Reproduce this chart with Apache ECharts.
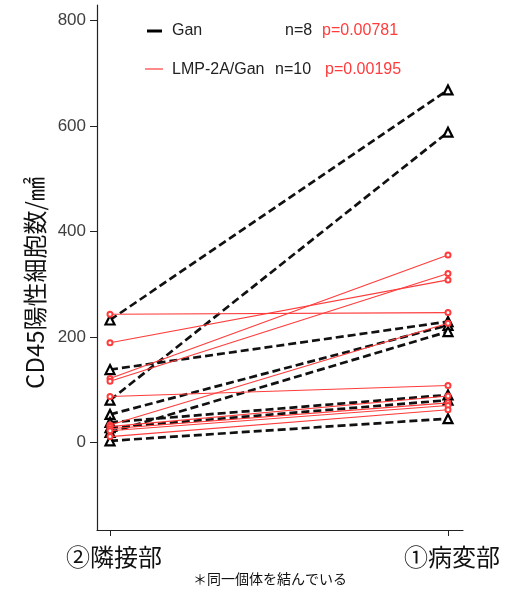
<!DOCTYPE html>
<html>
<head>
<meta charset="utf-8">
<script src="https://cdn.jsdelivr.net/npm/echarts@6/dist/echarts.min.js"></script>
<style>
  html, body { margin: 0; padding: 0; background: #fff; }
  #chart { width: 519px; height: 592px; }
</style>
</head>
<body>
<div id="chart"></div>
<script>
// Paired measurements: each index links one individual's two sites
const siteLabels = ['②隣接部', '①病変部'];
const yTicks = [0, 200, 400, 600, 800];

// Gan group (n=8)
const ganAdjacent = [232, 80, 138, 53, 19, 38, 28, 3];
const ganLesion   = [668, 588, 229, 222, 210, 90, 80, 45];

// LMP-2A/Gan group (n=10)
const lmpAdjacent = [243, 189, 121, 116, 87, 33, 30, 26, 22, 11];
const lmpLesion   = [246, 308, 355, 320, 108, 226, 88, 75, 70, 62];

const ganLegend = ['Gan', 'n=8', 'p=0.00781'];
const lmpLegend = ['LMP-2A/Gan', 'n=10', 'p=0.00195'];
const yAxisTitle = 'CD45陽性細胞数/㎟';
const footnote = '＊同一個体を結んでいる';

const RED = '#ff3b3b';
const JP = '"Noto Sans CJK JP", sans-serif';
const LAT = '"Liberation Sans", Arial, sans-serif';

const series = [];
ganAdjacent.forEach((v, i) => {
  series.push({
    type: 'line',
    data: [[0, v], [1, ganLesion[i]]],
    symbol: 'triangle',
    symbolSize: 9,
    z: 3,
    lineStyle: { color: '#111', width: 2.7, type: [8, 4] },
    itemStyle: { color: '#fff', borderColor: '#000', borderWidth: 2.2 },
    animation: false,
    silent: true
  });
});
lmpAdjacent.forEach((v, i) => {
  series.push({
    type: 'line',
    data: [[0, v], [1, lmpLesion[i]]],
    symbol: 'emptyCircle',
    symbolSize: 5,
    z: 4,
    lineStyle: { color: RED, width: 1.1 },
    itemStyle: { color: RED, borderColor: RED, borderWidth: 1 },
    animation: false,
    silent: true
  });
});

const chart = echarts.init(document.getElementById('chart'), null, { renderer: 'canvas' });
chart.setOption({
  backgroundColor: '#fff',
  animation: false,
  grid: { left: 97, right: 56, top: 5, bottom: 62 },
  xAxis: {
    type: 'value',
    min: -0.0385,
    max: 1.0444,
    splitLine: { show: false },
    axisLine: { show: true, onZero: false, lineStyle: { color: '#222', width: 1.2 } },
    axisTick: { show: true, customValues: [0, 1], length: 6, lineStyle: { color: '#222' } },
    axisLabel: {
      customValues: [0, 1],
      margin: 15,
      fontSize: 24,
      color: '#111',
      fontFamily: JP,
      padding: [0, 0, 0, 8],
      formatter: v => siteLabels[Math.round(v)]
    }
  },
  yAxis: {
    type: 'value',
    min: -166,
    max: 829,
    splitLine: { show: false },
    axisLine: { show: true, onZero: false, lineStyle: { color: '#222', width: 1.2 } },
    axisTick: { show: true, customValues: yTicks, length: 7, lineStyle: { color: '#222' } },
    axisLabel: {
      customValues: yTicks,
      margin: 11,
      fontSize: 17,
      color: '#404040',
      fontFamily: LAT
    }
  },
  graphic: [
    { type: 'text', x: 35, y: 283, rotation: Math.PI / 2,
      style: { text: yAxisTitle, font: '24px ' + JP, fill: '#111', align: 'center', verticalAlign: 'middle' } },
    { type: 'text', x: 270, y: 579,
      style: { text: footnote, font: '14px ' + JP, fill: '#111', align: 'center', verticalAlign: 'middle' } },
    // legend row 1
    { type: 'line', shape: { x1: 147, y1: 31, x2: 162, y2: 31 }, style: { stroke: '#000', lineWidth: 3 } },
    { type: 'text', x: 172, y: 31, style: { text: ganLegend[0], font: '16px ' + LAT, fill: '#222', verticalAlign: 'middle' } },
    { type: 'text', x: 285, y: 31, style: { text: ganLegend[1], font: '16px ' + LAT, fill: '#222', verticalAlign: 'middle' } },
    { type: 'text', x: 322, y: 31, style: { text: ganLegend[2], font: '16px ' + LAT, fill: RED, verticalAlign: 'middle' } },
    // legend row 2
    { type: 'line', shape: { x1: 145, y1: 69, x2: 163, y2: 69 }, style: { stroke: RED, lineWidth: 1.2 } },
    { type: 'text', x: 172, y: 70, style: { text: lmpLegend[0], font: '16px ' + LAT, fill: '#222', verticalAlign: 'middle' } },
    { type: 'text', x: 275, y: 70, style: { text: lmpLegend[1], font: '16px ' + LAT, fill: '#222', verticalAlign: 'middle' } },
    { type: 'text', x: 325, y: 70, style: { text: lmpLegend[2], font: '16px ' + LAT, fill: RED, verticalAlign: 'middle' } }
  ],
  series: series
});
</script>
</body>
</html>
